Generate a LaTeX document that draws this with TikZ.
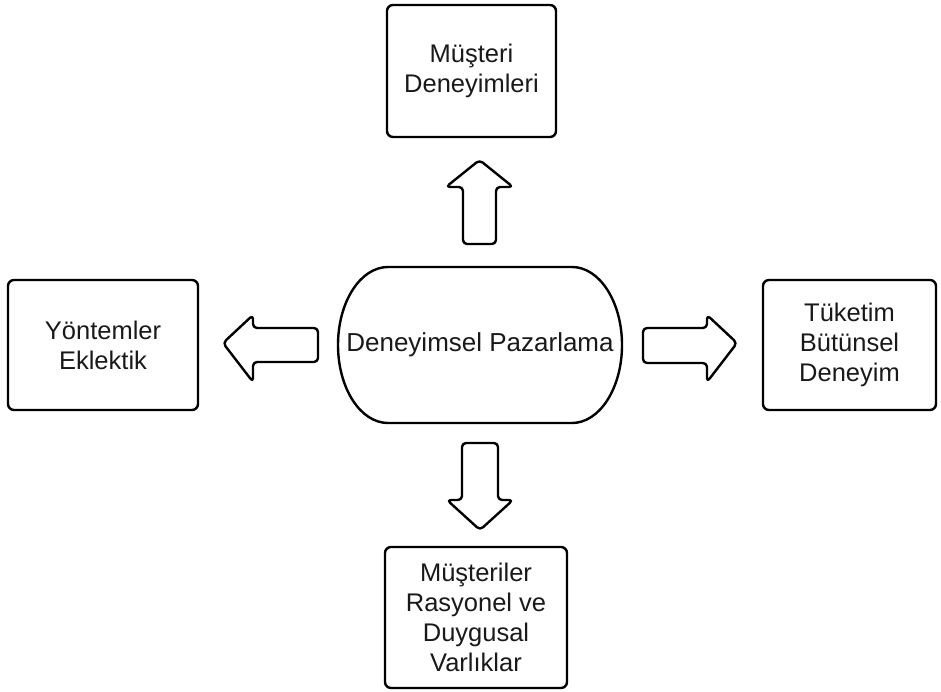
\documentclass[tikz,border=0pt]{standalone}
\usepackage{fontspec}
\setmainfont{Liberation Sans}
\begin{document}
\begin{tikzpicture}[x=1pt,y=-1pt,
  box/.style={draw=black, line width=2.4pt, rounded corners=6pt, align=center,
    inner sep=0pt, font=\fontsize{25.5}{30}\selectfont, text=black!90},
  blockarrow/.style={draw=black, line width=2.4pt, rounded corners=4pt, line join=round},
  lbl/.style={font=\fontsize{26}{30}\selectfont, text=black!90, inner sep=0pt}]
\useasboundingbox (0,0) rectangle (941,692);

% boxes
\node[box, minimum width=169pt, minimum height=132pt] (top) at (471.5,71) {Müşteri\\Deneyimleri};
\node[box, minimum width=190pt, minimum height=130pt] (left) at (103,345) {Yöntemler\\Eklektik};
\node[box, minimum width=173pt, minimum height=130pt] (right) at (849.5,345) {Tüketim\\Bütünsel\\Deneyim};
\node[box, minimum width=182pt, minimum height=141pt] (bottom) at (476,617.5) {Müşteriler\\Rasyonel ve\\Duygusal\\Varlıklar};

% center terminator
\node[lbl] (dp) at (480,345) {Deneyimsel Pazarlama};
\draw[line width=2.4pt] (388,267) -- (572,267)
  arc[start angle=-90, end angle=90, x radius=50, y radius=78] -- (388,423)
  arc[start angle=90, end angle=270, x radius=50, y radius=78] -- cycle;

% up arrow
\coordinate (ua) at (480,244);
\draw[blockarrow] (463,244) -- (463,187) -- (446,187) -- (479.5,160) -- (513,187) -- (496,187) -- (496,244) -- cycle;
% down arrow
\coordinate (da) at (480,443);
\draw[blockarrow] (462,443) -- (462,500) -- (447,500) -- (480,530) -- (513,500) -- (498,500) -- (498,443) -- cycle;
% left arrow
\coordinate (la) at (318,345);
\draw[blockarrow] (318,328) -- (253,328) -- (253,315) -- (223,343) -- (253,382) -- (253,362) -- (318,362) -- cycle;
% right arrow
\coordinate (ra) at (643,345);
\draw[blockarrow] (643,328) -- (707,328) -- (707,315) -- (737,343) -- (707,382) -- (707,363) -- (643,363) -- cycle;
\end{tikzpicture}
\end{document}
